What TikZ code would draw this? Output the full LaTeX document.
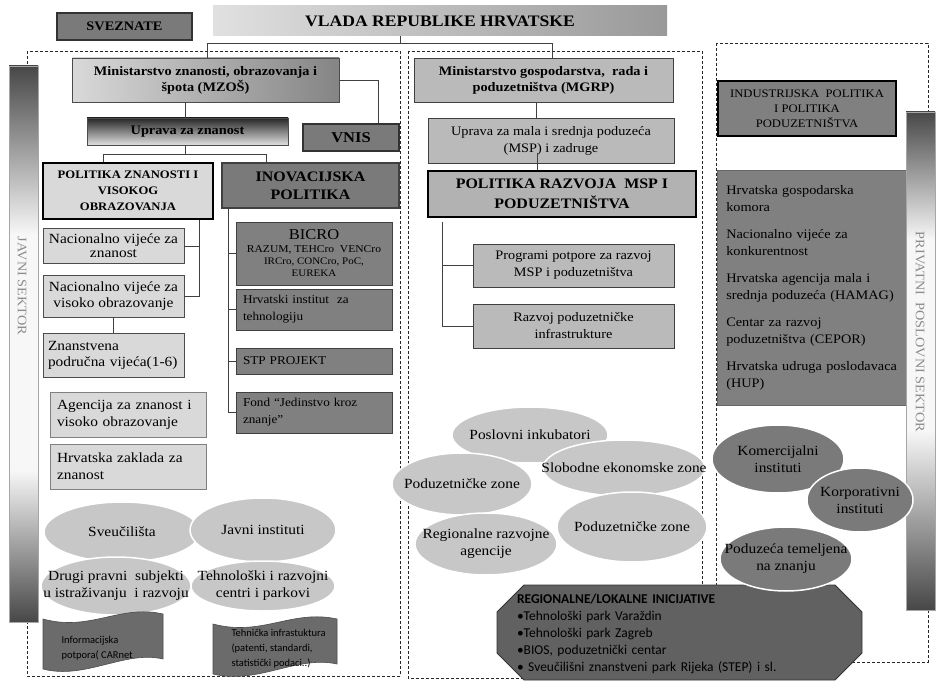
\documentclass[tikz,border=0pt]{standalone}
\usepackage{fontspec}
\setmainfont{Liberation Serif}[FakeStretch=1.1]
\newfontfamily\calfont{Carlito}
\usetikzlibrary{shapes.geometric}
\newcommand\fsz[2]{\fontsize{#1}{#2}\selectfont}
\begin{document}
\begin{tikzpicture}[x=1pt,y=-1pt,
  conn/.style={draw=black!75,line width=0.9pt},
  region/.style={draw=black!85,dash pattern=on 3pt off 2pt,line width=0.7pt},
  lbox/.style={draw=black!70,fill=black!15,line width=0.8pt,align=center,inner sep=2pt},
  mbox/.style={draw=black!75,fill=black!27,line width=0.8pt,align=center,inner sep=2pt},
  dbox/.style={draw=black!75,fill=black!50,line width=0.8pt,align=center,inner sep=2pt},
  oval/.style={ellipse,fill=black!22,draw=white,line width=1.5pt,inner sep=0pt},
  doval/.style={oval,fill=black!52},
  ovtext/.style={label={[align=center,font=\fsz{14}{17}]center:#1}},
  banner/.style={fill=black!58,draw=black!70,line width=0.6pt}]
\useasboundingbox[fill=white] (0,0) rectangle (938,682);

% sektori
\draw[region] (27,51) rectangle (400,676);
\draw[region] (408,51) rectangle (702,678);
\draw[region] (716,43) rectangle (928,662);

\fill[top color=black!72,bottom color=black!3] (9,66) rectangle (38,235);
\fill[black!3] (9,235) rectangle (38,470);
\fill[top color=black!3,bottom color=black!72] (9,470) rectangle (38,622);
\draw[black!35] (9,66) rectangle (38,622);
\node[rotate=-90,text=black!45,font=\fsz{13}{14}] (jsek) at (22,286) {JAVNI SEKTOR};

% vrh
\node[draw=black!80,line width=2pt,fill=black!52,minimum width=135,minimum height=27,font=\bfseries\fsz{13}{14}] (svez) at (124.5,26.5) {SVEZNATE};
\node[left color=black!12,right color=black!40,minimum width=454,minimum height=30,font=\bfseries\fsz{16}{17}] (vlada) at (440,21) {VLADA REPUBLIKE HRVATSKE};

% MZOS
\node[draw=black!70,line width=0.8pt,left color=black!15,right color=black!48,minimum width=267,minimum height=44,align=center,font=\bfseries\fsz{13}{16}] (mzos) at (205.5,80) {Ministarstvo znanosti, obrazovanja i\\špota (MZOŠ)};
\node[draw=black!70,line width=0.8pt,top color=black!85,middle color=black!22,bottom color=black!12,minimum width=201,minimum height=27,font=\bfseries\fsz{13}{14}] (uzz) at (187.5,131.5) {Uprava za znanost};
\node[draw=black!80,line width=2.5pt,fill=black!52,minimum width=96,minimum height=27,font=\bfseries\fsz{15}{16}] (vnis) at (351,137.5) {VNIS};
\node[draw=black,line width=2.5pt,fill=black!15,minimum width=170,minimum height=56,align=center,font=\bfseries\fsz{11.5}{16}] (pzvo) at (128,191) {POLITIKA ZNANOSTI I\\VISOKOG\\OBRAZOVANJA};
\node[draw=black!75,line width=2.5pt,fill=black!52,minimum width=177,minimum height=45,align=center,font=\bfseries\fsz{14.5}{18}] (inov) at (310.5,185.5) {INOVACIJSKA\\POLITIKA};

\node[lbox,minimum width=141,minimum height=35,font=\fsz{14}{14}] (nvz) at (113.5,246) {Nacionalno vijeće za\\znanost};
\node[lbox,minimum width=141,minimum height=42,font=\fsz{14}{16}] (nvo) at (113.5,296) {Nacionalno vijeće za\\visoko obrazovanje};
\node[lbox,minimum width=141,minimum height=44,text width=131,align=left,font=\fsz{14}{16}] (zpv) at (113.5,355) {Znanstvena\\područna vijeća(1-6)};
\node[lbox,draw=black!50,minimum width=156,minimum height=45,text width=142,align=left,font=\fsz{14}{17}] (azvo) at (128,414.5) {Agencija za znanost i\\visoko obrazovanje};
\node[lbox,draw=black!50,minimum width=156,minimum height=45,text width=142,align=left,font=\fsz{14}{17}] (hzz) at (128,466.5) {Hrvatska zaklada za\\znanost};

\node[dbox,minimum width=156,minimum height=63] (bicro) at (314,253.5) {\fsz{15}{16}BICRO\\[1pt]\fsz{10.5}{10}RAZUM, TEHCro\ \ VENCro\\IRCro, CONCro, PoC,\\EUREKA};
\node[dbox,minimum width=156,minimum height=41,text width=142,align=left,font=\fsz{12}{17}] (hit) at (314,309.5) {Hrvatski institut\ \ za\\tehnologiju};
\node[dbox,minimum width=156,minimum height=26,text width=142,align=left,font=\fsz{12}{17}] (stp) at (314,361) {STP PROJEKT};
\node[dbox,minimum width=156,minimum height=41,text width=142,align=left,font=\fsz{12}{17}] (fond) at (314,412.5) {Fond “Jedinstvo kroz\\znanje”};

% MGRP
\node[mbox,minimum width=259,minimum height=44,font=\bfseries\fsz{13}{16}] (mgrp) at (543.5,80) {Ministarstvo gospodarstva,\ \ rada i\\poduzetništva (MGRP)};
\node[mbox,minimum width=246,minimum height=45,font=\fsz{13}{17}] (msp) at (551,140.5) {Uprava za mala i srednja poduzeća\\(MSP) i zadruge};
\node[draw=black,line width=2.8pt,fill=black!30,minimum width=268,minimum height=46,align=center,font=\bfseries\fsz{14.5}{20}] (pmsp) at (562,194) {POLITIKA RAZVOJA\ \ MSP I\\PODUZETNIŠTVA};
\node[mbox,minimum width=201,minimum height=43,font=\fsz{13}{17}] (prog) at (573.5,265.5) {Programi potpore za razvoj\\MSP i poduzetništva};
\node[mbox,minimum width=201,minimum height=44,font=\fsz{13}{17}] (razv) at (573.5,326) {Razvoj poduzetničke\\infrastrukture};

% privatni sektor
\node[draw=black,line width=2.5pt,fill=black!50,minimum width=178,minimum height=55,align=center,font=\fsz{11.5}{15}] (ipp) at (807,108.5) {INDUSTRIJSKA\ \ POLITIKA\\I POLITIKA\\PODUZETNIŠTVA};
\node[fill=black!50,draw=black!60,line width=0.6pt,anchor=north west,minimum width=193,minimum height=235,inner xsep=9pt,inner ysep=7pt,text width=175,align=left,font=\fsz{13}{17}] (hgk) at (717,170) {Hrvatska gospodarska\\komora\\[10pt]Nacionalno vijeće za\\konkurentnost\\[10pt]Hrvatska agencija mala i\\srednja poduzeća (HAMAG)\\[10pt]Centar za razvoj\\poduzetništva (CEPOR)\\[10pt]Hrvatska udruga poslodavaca\\(HUP)\\[22pt]};

\fill[top color=black!72,bottom color=black!3] (906,112) rectangle (935,240);
\fill[black!3] (906,240) rectangle (935,430);
\fill[top color=black!3,bottom color=black!72] (906,430) rectangle (935,610);
\draw[black!35] (906,112) rectangle (935,610);
\node[rotate=-90,text=black!45,font=\fsz{13}{14}] (psek) at (920,332) {PRIVATNI\ \ POSLOVNI SEKTOR};

% inicijative
\filldraw[fill=black!62,draw=black!80,line width=0.8pt] (524,585) -- (835,585) -- (862,612) -- (862,653) -- (835,680) -- (524,680) -- (497,653) -- (497,612) -- cycle;
\node[text width=325,align=left,inner sep=0pt,font=\calfont\fsz{13.5}{17}] (regi) at (679.5,634) {{\bfseries REGIONALNE/LOKALNE INICIJATIVE}\\•Tehnološki park Varaždin\\•Tehnološki park Zagreb\\•BIOS, poduzetnički centar\\• Sveučilišni znanstveni park Rijeka (STEP) i sl.};

% elipse
\node[oval,minimum width=156,minimum height=60,ovtext={Sveučilišta}] (sveu) at (122,532) {};
\node[oval,minimum width=146,minimum height=64,ovtext={Javni instituti}] (jins) at (263,530) {};
\node[oval,minimum width=150,minimum height=58,ovtext={Drugi pravni\ \ subjekti\\u istraživanju\ \ i razvoju}] (drugi) at (116,586) {};
\node[oval,minimum width=144,minimum height=50,ovtext={Tehnološki i razvojni\\centri i parkovi}] (trc) at (263,586) {};

\node[oval,minimum width=156,minimum height=56,ovtext={Poslovni inkubatori}] (posl) at (530,435) {};
\node[oval,minimum width=140,minimum height=62,ovtext={Poduzetničke zone}] (pzl) at (462,484) {};
\node[oval,minimum width=162,minimum height=56,ovtext={Slobodne ekonomske zone}] (slob) at (624,468) {};
\node[oval,minimum width=150,minimum height=70,ovtext={Poduzetničke zone}] (pzr) at (632,527) {};
\node[oval,minimum width=142,minimum height=62,ovtext={Regionalne razvojne\\agencije}] (rra) at (486,544) {};

\node[doval,minimum width=132,minimum height=68,ovtext={Komercijalni\\instituti}] (kom) at (778,459) {};
\node[doval,minimum width=106,minimum height=64,ovtext={Korporativni\\instituti}] (korp) at (860,500) {};
\node[doval,minimum width=132,minimum height=64,ovtext={Poduzeća temeljena\\na znanju}] (ptz) at (786,559) {};

% potpora
\filldraw[banner] (43,619) .. controls (90,632) and (120,604) .. (163,614) -- (163,659) .. controls (125,650) and (85,680) .. (43,669) -- cycle;
\node[anchor=west,align=left,font=\calfont\fsz{10.5}{15}] (info) at (58,648) {Informacijska\\potpora( CARnet};
\filldraw[banner] (213,624) .. controls (262,637) and (292,609) .. (337,619) -- (337,664) .. controls (297,655) and (257,685) .. (213,674) -- cycle;
\node[anchor=west,align=left,font=\calfont\fsz{10.5}{15}] (tinf) at (228,649) {Tehnička infrastuktura\\(patenti, standardi,\\statistički podaci..)};

% veze
\coordinate (vbus) at (400,43);
\draw[conn] (vbus |- vlada.south) -- (vbus);
\draw[conn] (vbus) -| ([xshift=1.5]mzos.north);
\draw[conn] (vbus) -| ([xshift=8.5]mgrp.north);
\draw[conn] (mzos.east) -| ([xshift=27]vnis.north);
\coordinate (ubus) at (185,154);
\draw[conn] (ubus |- mzos.south) -- (ubus |- uzz.north);
\draw[conn] (ubus |- uzz.south) -- (ubus);
\draw[conn] (ubus) -| ([xshift=-25]pzvo.north);
\draw[conn] (ubus) -| ([xshift=-44.5]inov.north);
\draw[conn] ([xshift=-15]pzvo.south east) |- (nvz.east);
\draw[conn] ([xshift=-15]pzvo.south east) |- (nvo.east);
\draw[conn] (nvo.south) -- (zpv.north);
\foreach \n in {bicro,hit,stp,fond}
  \draw[conn] ([xshift=8]inov.south west) |- (\n.west);
\draw[conn] ([xshift=-7.5]mgrp.south) -- ([xshift=-7.5]mgrp.south |- msp.north);
\draw[conn] ([xshift=-14,yshift=10]msp.south) -- ([xshift=-14]msp.south |- pmsp.north);
\draw[conn] ([xshift=16,yshift=-4]pmsp.south west) |- (prog.west);
\draw[conn] ([xshift=16,yshift=-4]pmsp.south west) |- (razv.west);
\end{tikzpicture}
\end{document}
